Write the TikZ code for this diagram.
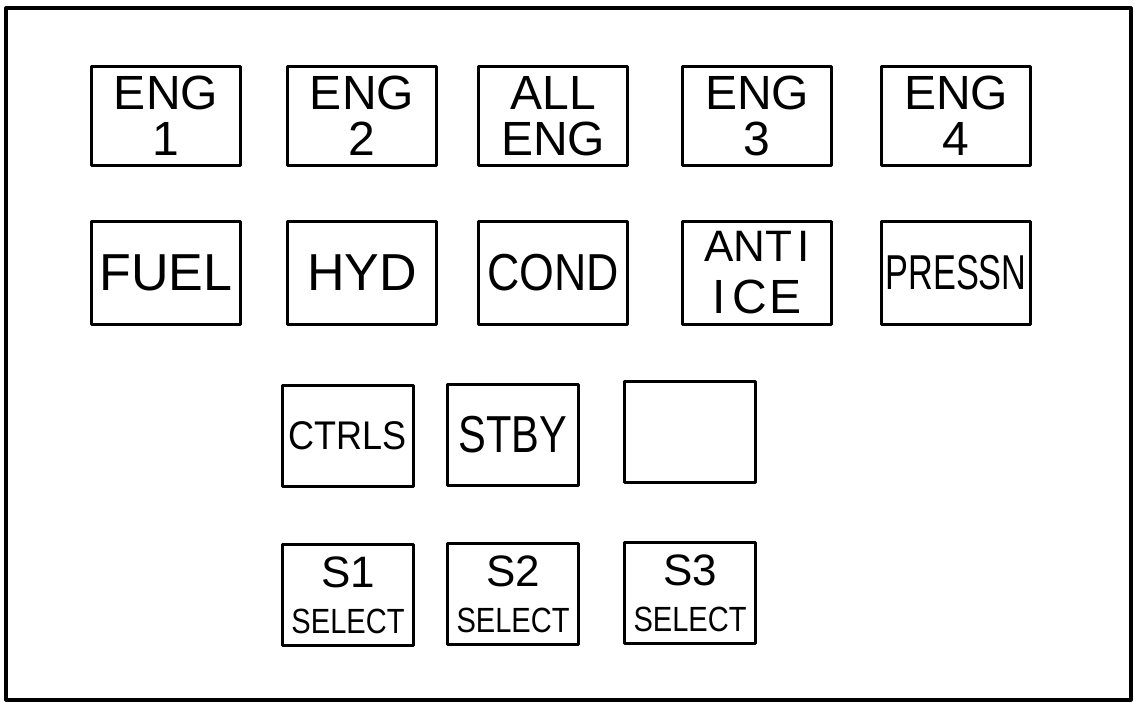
\documentclass[tikz,border=0pt]{standalone}
\usepackage{fontspec}
\newfontfamily\lettr{Liberation Sans}
% squeeze a label sideways, as the hand lettering is narrow
\newcommand\nrw[2]{\scalebox{#1}[1]{#2}}
\newcommand\selword{\nrw{.83}{\fontsize{35}{35}\selectfont SELECT}}
\begin{document}
\begin{tikzpicture}[x=1pt,y=-1pt,line join=round,line cap=round,
	key/.style={draw,line width=3pt,inner sep=0pt,minimum width=149pt,minimum height=99pt,
		align=center,font=\lettr\fontsize{48}{46}\selectfont},
	smallkey/.style={key,minimum width=131pt,minimum height=101pt}]
	\useasboundingbox (0,0) rectangle (1134,703);
	\path (6,8) coordinate (NW)
	(1131,700) coordinate (SE)
	;
	\draw[line width=3.2pt] (NW) rectangle (SE);
	% engine row
	\foreach \n/\x/\txt in {eng1/166/{ENG\\1},eng2/362/{ENG\\2},alleng/553/{ALL\\ENG},eng3/757/{ENG\\3},eng4/956/{ENG\\4}}
	\node[key] (\n) at (\x,116) {\txt};
	% systems row
	\foreach \n/\x/\txt in {fuel/166/{\fontsize{52}{46}\selectfont FUEL},hyd/362/{\fontsize{52}{46}\selectfont HYD},
		cond/553/{\nrw{.86}{\fontsize{52}{46}\selectfont COND}},
		antiice/757/{\fontsize{44}{46}\selectfont ANT\kern5pt I\\[6pt]I\kern7pt C\kern3pt E},
		pressn/956/{\nrw{.7}{\fontsize{49}{46}\selectfont PRESSN}}}
	\node[key,minimum height=102pt] (\n) at (\x,273) {\txt};
	% lower rows
	\node[smallkey] (ctrls) at (348,436) {\nrw{.9}{\fontsize{40}{40}\selectfont CTRLS}};
	\node[smallkey] (stby) at (513,435) {\nrw{.8}{\fontsize{52}{46}\selectfont STBY}};
	\node[smallkey] (spare) at (690,432) {};
	\foreach \n/\x/\y/\k in {sel1/348/595/1,sel2/513/594/2,sel3/690/593/3}
	\node[smallkey,font=\lettr\fontsize{44}{46}\selectfont] (\n) at (\x,\y) {S\k\\\selword};
\end{tikzpicture}
\end{document}
